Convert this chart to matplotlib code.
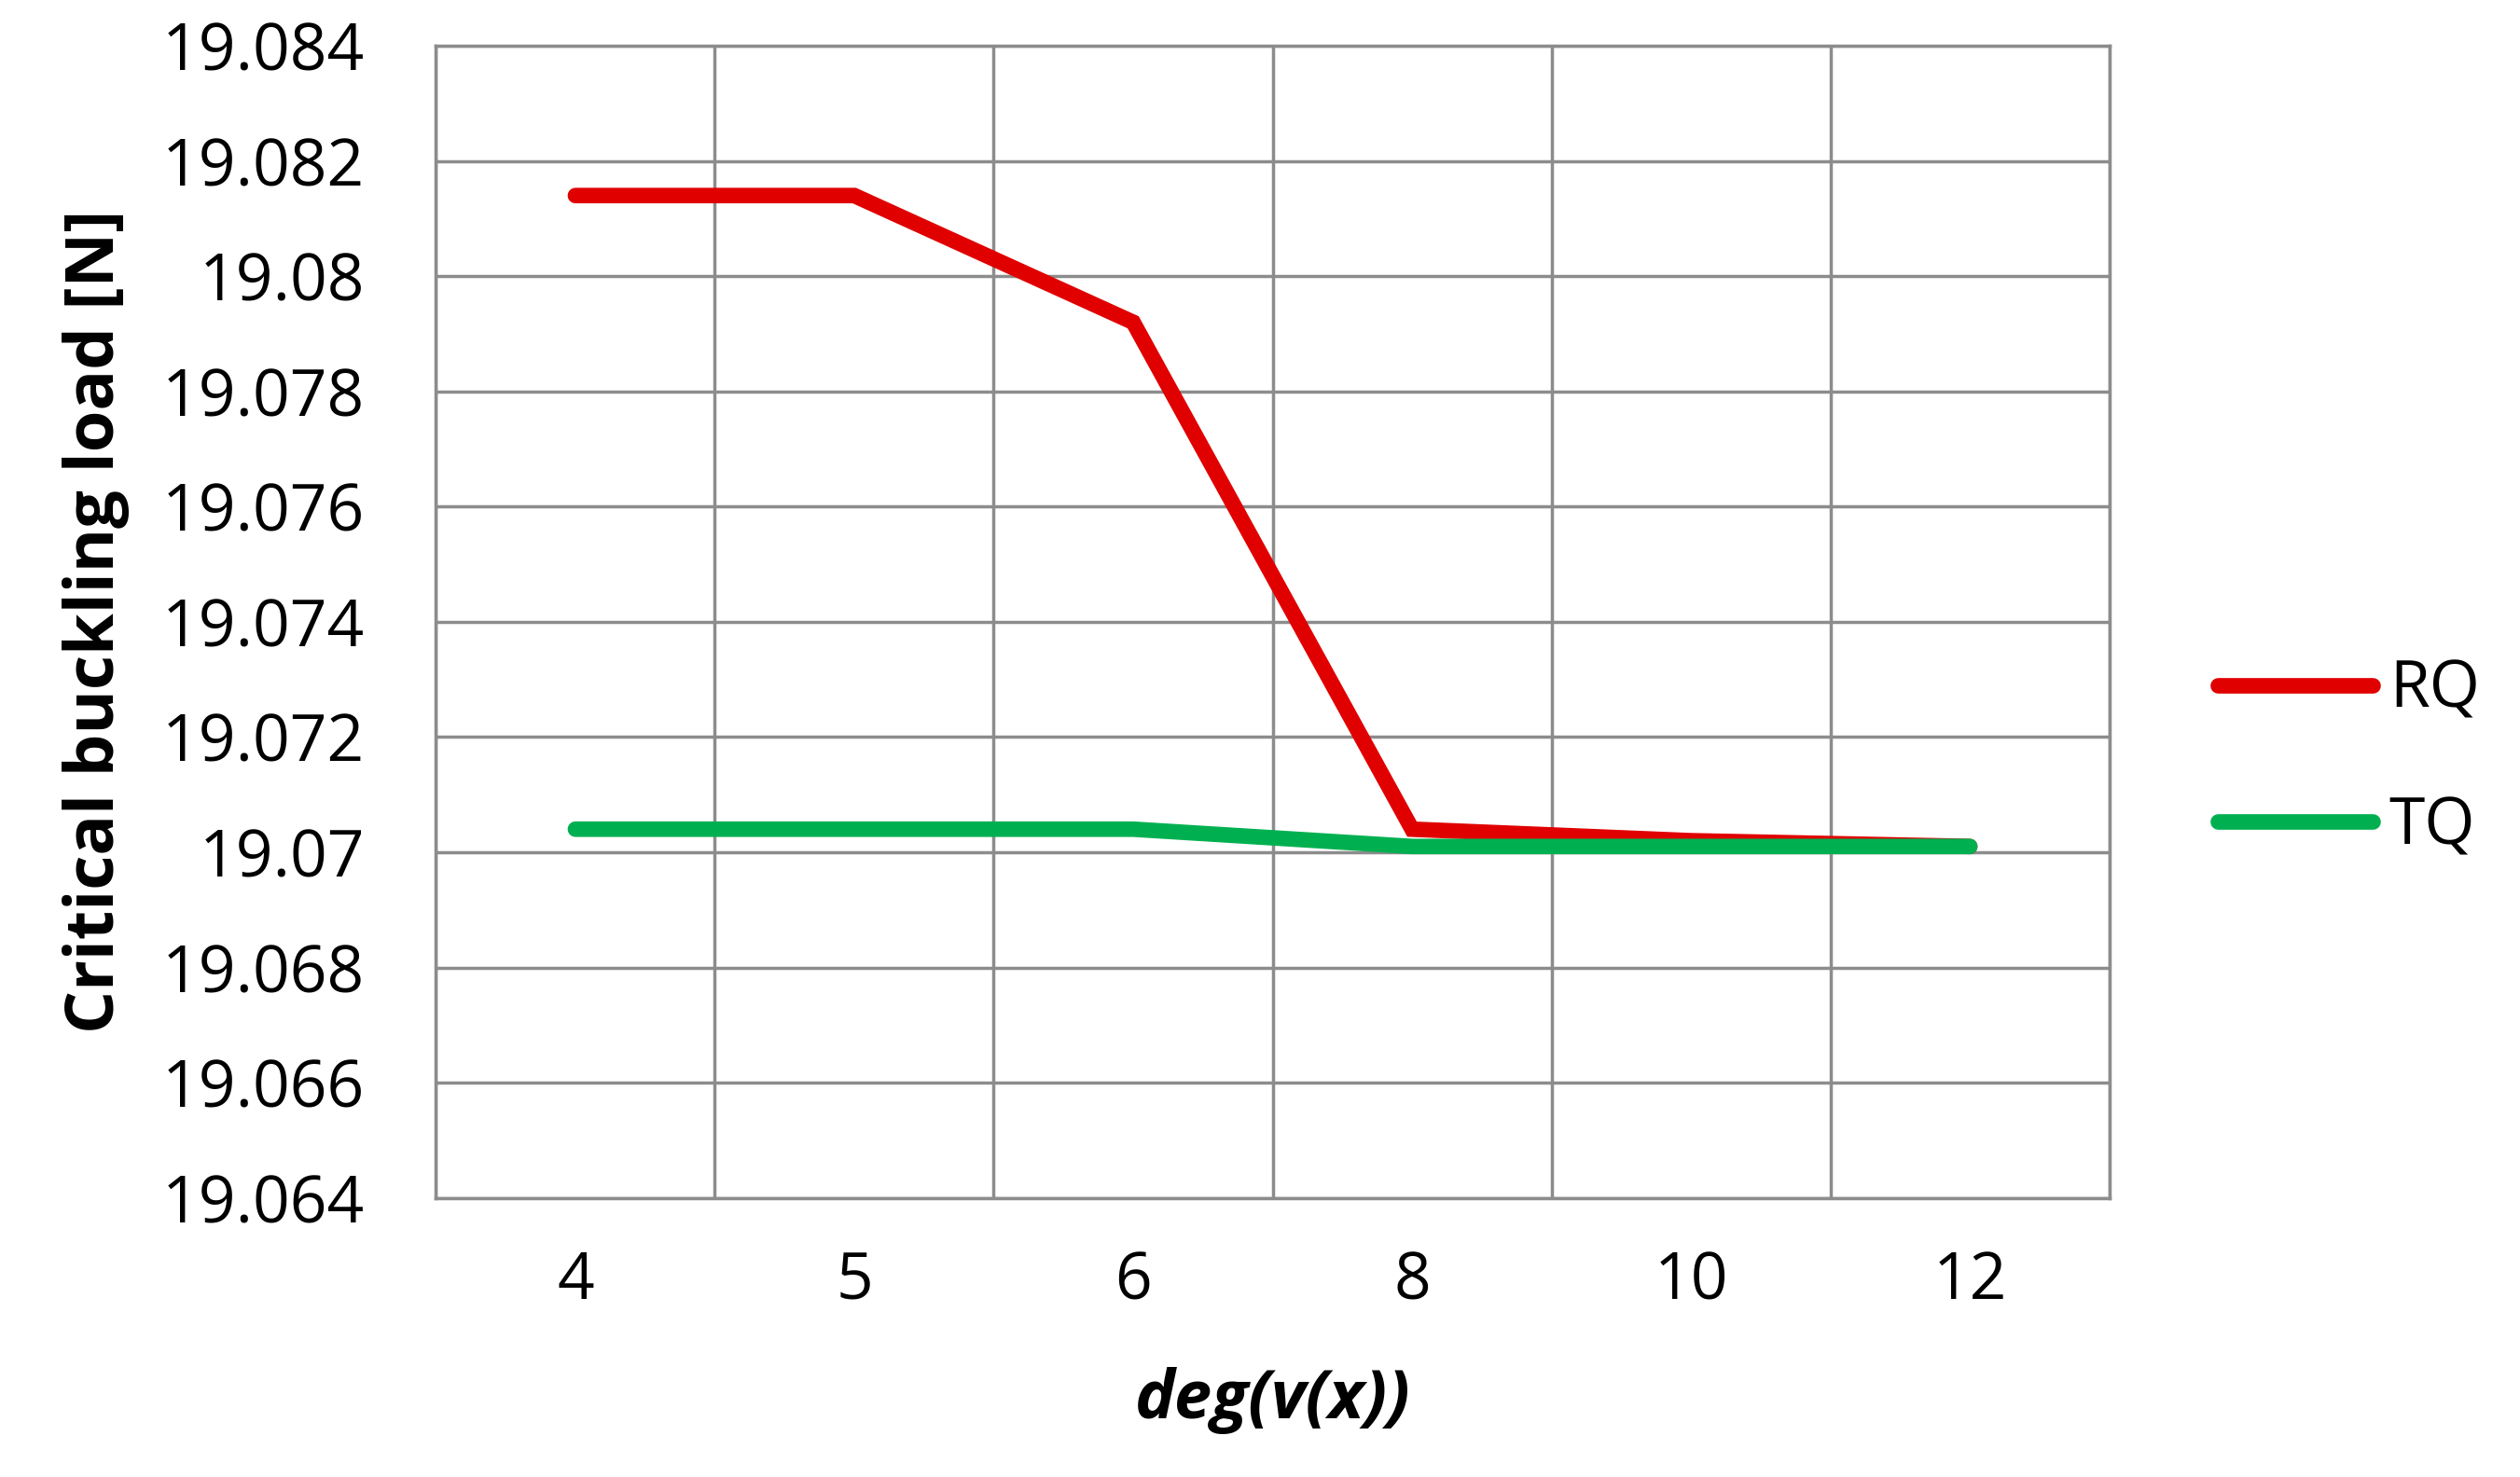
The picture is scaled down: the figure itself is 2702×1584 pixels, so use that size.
import matplotlib
matplotlib.use("Agg")
import matplotlib.pyplot as plt

categories = ["4", "5", "6", "8", "10", "12"]
rq = [19.0814, 19.0814, 19.0792, 19.0704, 19.0702, 19.0701]
tq = [19.0704, 19.0704, 19.0704, 19.0701, 19.0701, 19.0701]
yticks = [19.064, 19.066, 19.068, 19.07, 19.072, 19.074, 19.076, 19.078, 19.08, 19.082, 19.084]
ytick_labels = ["19.064", "19.066", "19.068", "19.07", "19.072", "19.074", "19.076", "19.078", "19.08", "19.082", "19.084"]

plt.rcParams['font.family'] = ['Open Sans', 'DejaVu Sans']
fig = plt.figure(figsize=(27.02, 15.84), dpi=100)
ax = fig.add_axes([0.173, 0.189, 0.664, 0.780])
x = list(range(len(categories)))
ax.plot(x, rq, color="#E00000", lw=12, label="RQ", solid_capstyle="round", solid_joinstyle="miter")
ax.plot(x, tq, color="#00B050", lw=12, label="TQ", solid_capstyle="round", solid_joinstyle="miter")
ax.set_xlim(-0.5, len(categories) - 0.5)
ax.set_ylim(19.064, 19.084)
ax.set_yticks(yticks)
ax.set_yticklabels(ytick_labels, fontsize=50)
ax.set_xticks(x)
ax.set_xticklabels(categories, fontsize=50)
ax.set_xticks([i - 0.5 for i in range(len(categories) + 1)], minor=True)
ax.grid(False)
ax.grid(True, which="minor", axis="x", color="#8C8C8C", lw=2.5)
ax.grid(True, which="major", axis="y", color="#8C8C8C", lw=2.5)
ax.tick_params(which="both", length=0)
ax.tick_params(axis="x", pad=40)
ax.tick_params(axis="y", pad=55)
for s in ax.spines.values():
    s.set_color("#8C8C8C"); s.set_linewidth(2.5)
ax.set_xlabel("deg(v(x))", fontsize=52, fontweight="bold", style="italic", labelpad=40)
ax.set_ylabel("Critical buckling load [N]", fontsize=52, fontweight="bold", labelpad=25)
fig.legend(*ax.get_legend_handles_labels(), loc="center left", bbox_to_anchor=(0.88, 0.486),
           frameon=False, fontsize=50, borderpad=0, borderaxespad=0,
           handlelength=2.4, labelspacing=1.1, handletextpad=0.25)
fig.savefig("out.png", dpi=100)
